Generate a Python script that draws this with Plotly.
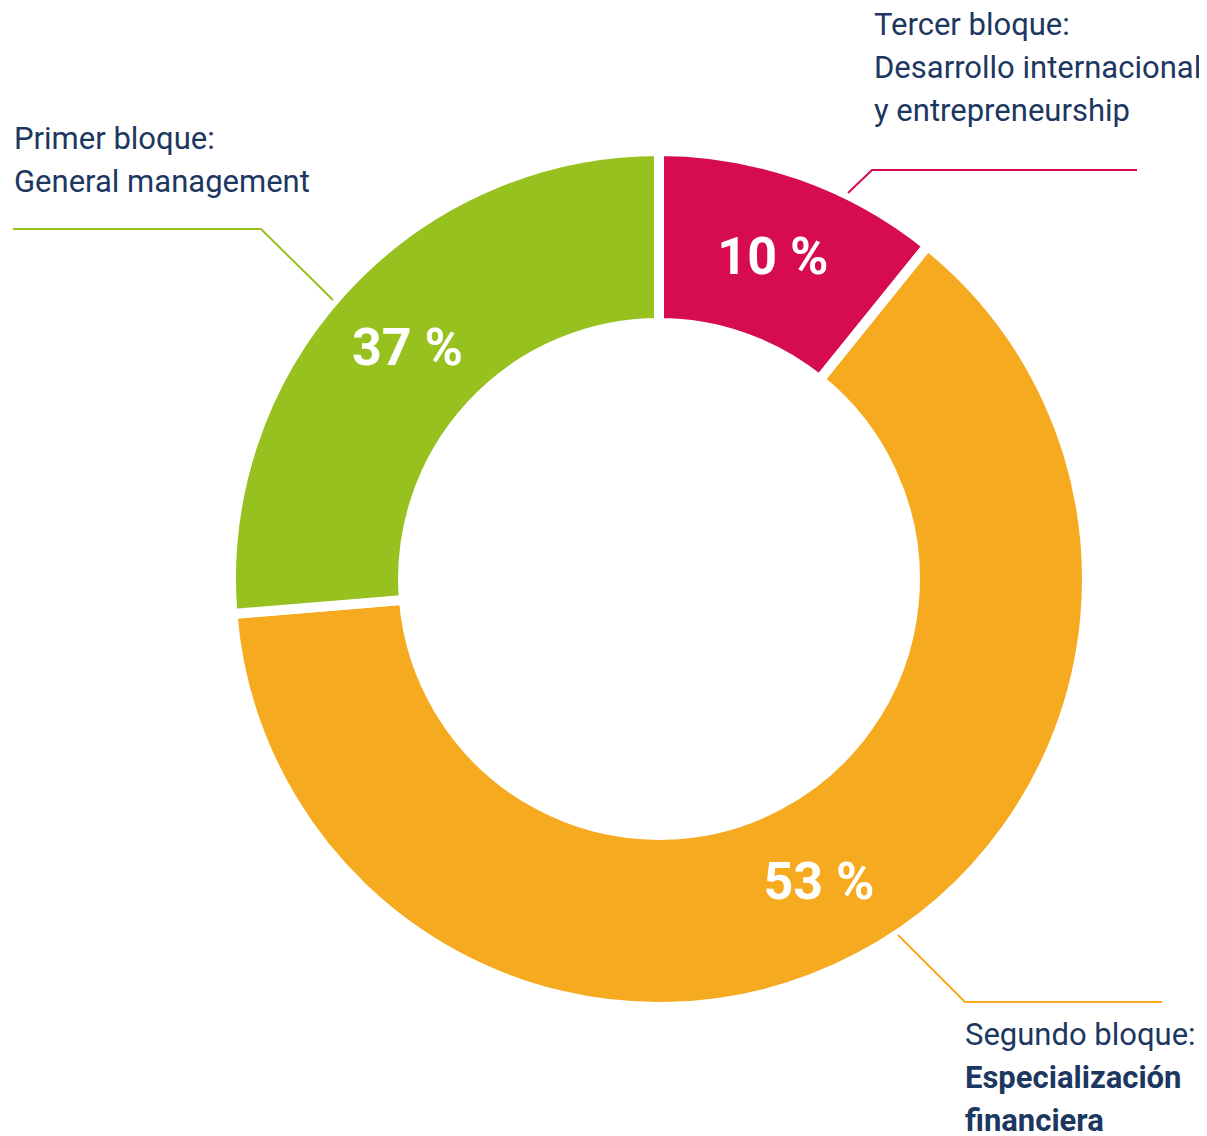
import plotly.graph_objects as go

blocks = ["Tercer bloque", "Segundo bloque", "Primer bloque"]
slice_sizes = [10.8, 62.9, 26.3]
pct_labels = ["10 %", "53 %", "37 %"]
colors = ["#D60B52", "#F6AA1F", "#96C11F"]

tercer_lines = ["Tercer bloque:", "Desarrollo internacional", "y entrepreneurship"]
primer_lines = ["Primer bloque:", "General management"]
segundo_lines = ["Segundo bloque:", "<b>Especialización</b>", "<b>financiera</b>"]

OFF = 8  # page body margin
W, H = 1207 - OFF, 1136 - OFF
cx, cy, R = 659, 579, 428

def px(x):
    return (x - OFF) / W

def py(y):
    return 1 - (y - OFF) / H

fig = go.Figure(
    go.Pie(
        labels=blocks,
        values=slice_sizes,
        text=pct_labels,
        textinfo="text",
        textposition="inside",
        insidetextorientation="horizontal",
        textfont=dict(family="Roboto", size=52, color="white", weight="bold"),
        hole=0.598,
        sort=False,
        direction="clockwise",
        rotation=0,
        marker=dict(colors=colors, line=dict(color="white", width=10)),
        hoverinfo="none",
        showlegend=False,
        domain=dict(x=[px(cx - R), px(cx + R)], y=[py(cy + R), py(cy - R)]),
    )
)

navy = "#1C3760"
font = dict(family="Roboto", size=31, color=navy)
LS = 43

annotations = []
for lines, x0, y0 in [(tercer_lines, 873, 24), (primer_lines, 13, 138), (segundo_lines, 964, 1034)]:
    for i, t in enumerate(lines):
        annotations.append(dict(
            x=px(x0 - 1), y=py(y0 + i * LS), text=t,
            xref="paper", yref="paper", xanchor="left", yanchor="middle",
            showarrow=False, align="left", font=font,
        ))

leaders = [
    ([848, 872, 1137], [193, 170, 170], colors[0]),
    ([13, 261, 333], [229, 229, 300], colors[2]),
    ([898, 965, 1162], [935, 1002, 1002], colors[1]),
]
shapes = []
for xs, ys, c in leaders:
    path = "M " + " L ".join(f"{px(x)},{py(y)}" for x, y in zip(xs, ys))
    shapes.append(dict(type="path", xref="paper", yref="paper", path=path,
                       line=dict(color=c, width=2)))

fig.update_layout(
    width=W, height=H,
    margin=dict(l=0, r=0, t=0, b=0),
    paper_bgcolor="white", plot_bgcolor="white",
    annotations=annotations,
    shapes=shapes,
)

fig.write_html("out.html")
